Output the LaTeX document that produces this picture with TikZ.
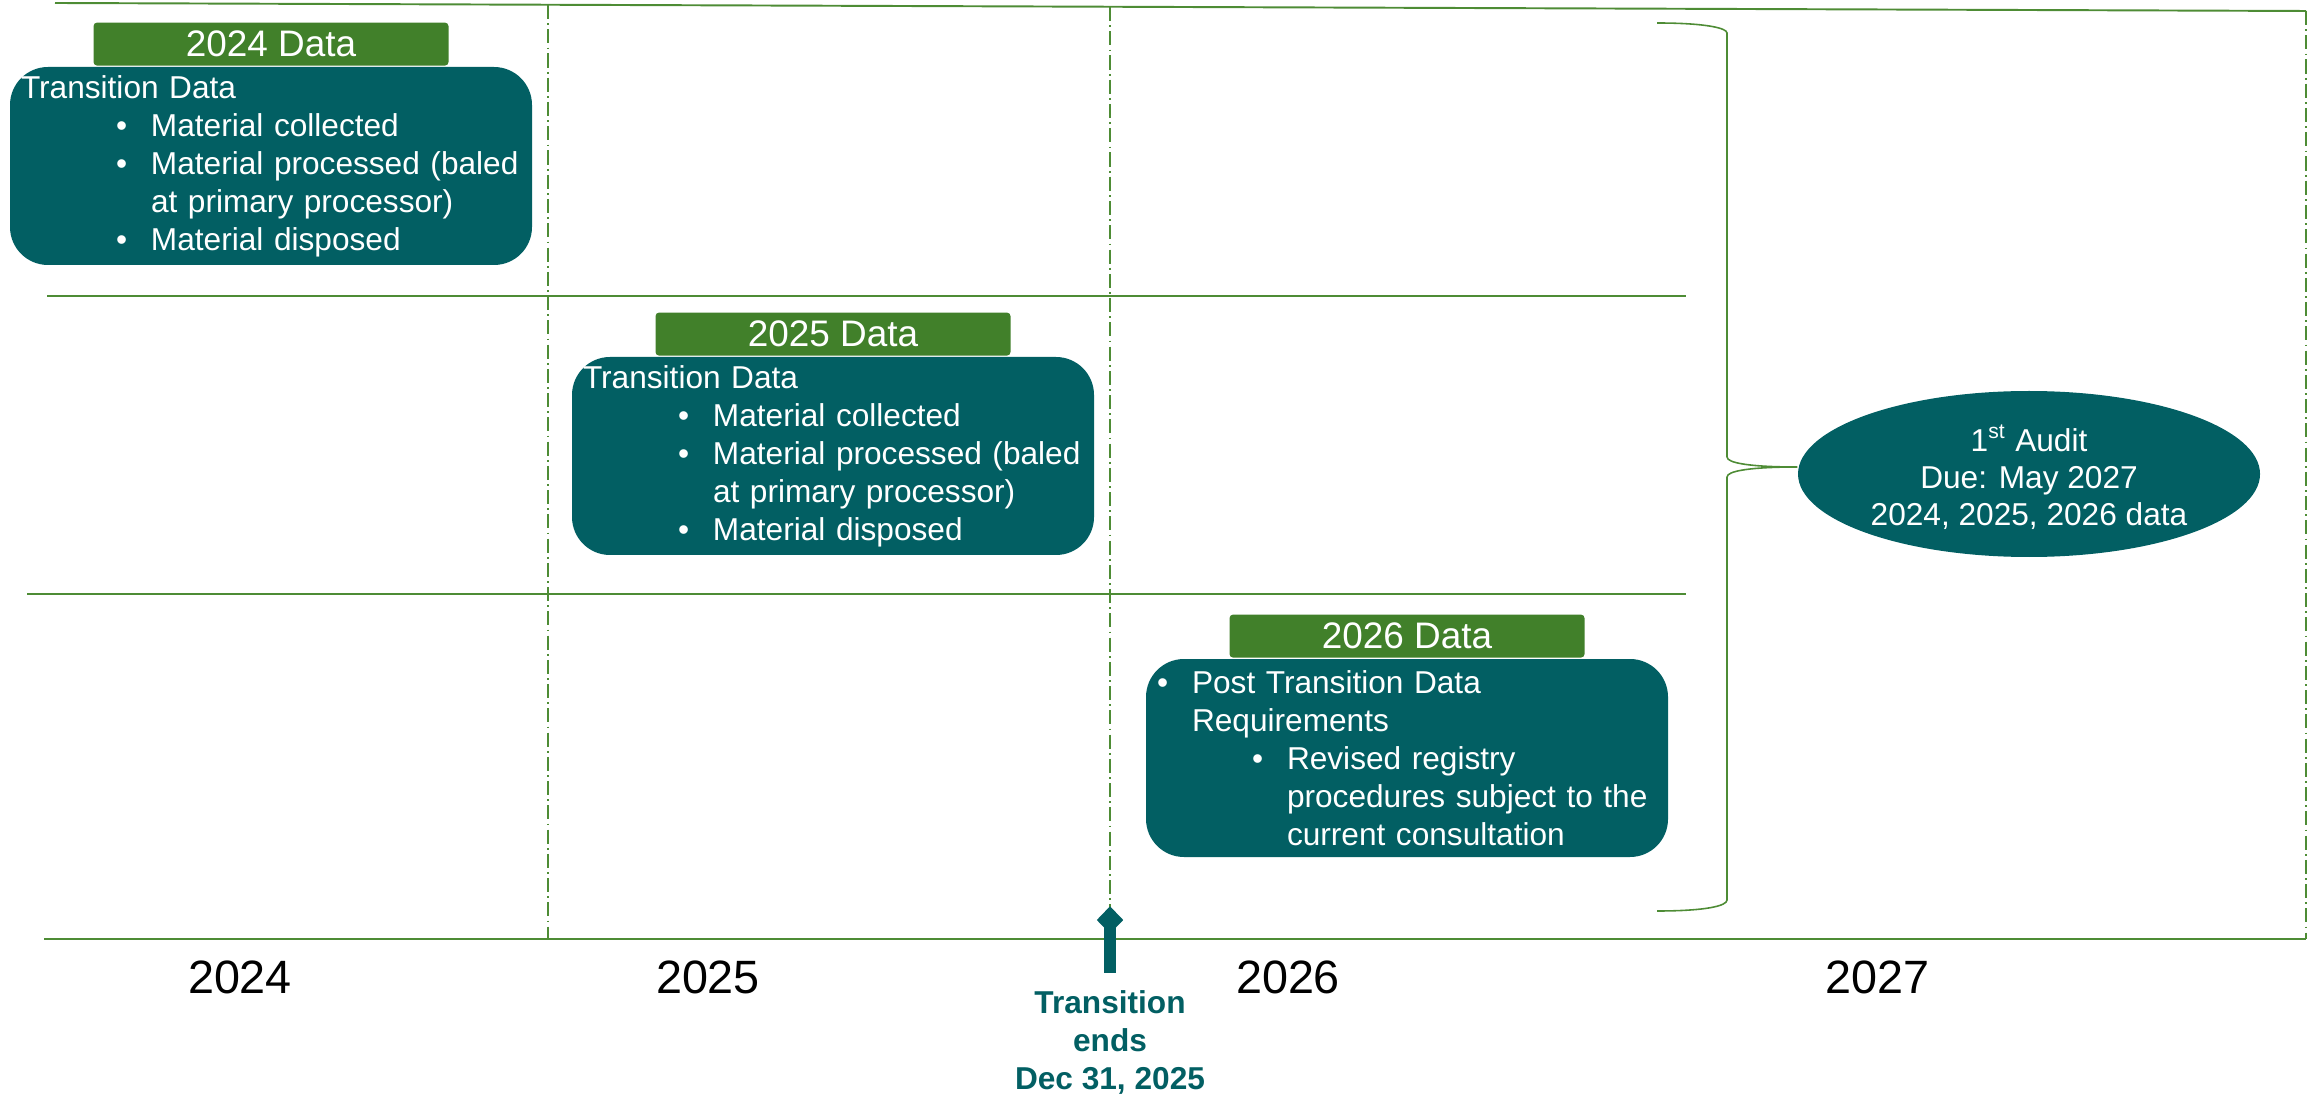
\documentclass[tikz,border=0pt]{standalone}
\usepackage{fontspec}
\setmainfont{Liberation Sans}
\usepackage{xcolor}
\usetikzlibrary{shapes.geometric,positioning}

\definecolor{tealbox}{HTML}{025F63}
\definecolor{headgreen}{HTML}{41802A}
\definecolor{linegreen}{HTML}{4E8C35}

% one bullet line: indent, text
\newcommand{\itemline}[2]{\hspace*{#1}\makebox[0.35cm][l]{\textbullet}#2}

\begin{document}
\begin{tikzpicture}[
    data box/.style={rectangle,rounded corners=0.38cm,fill=tealbox,text=white,
        minimum width=5.22cm,minimum height=1.98cm,text width=5.0cm,align=left,
        inner xsep=0.11cm,inner ysep=0pt,font=\fontsize{9}{10.8}\selectfont},
    year head/.style={rectangle,rounded corners=1pt,fill=headgreen,text=white,
        minimum width=3.55cm,minimum height=0.43cm,inner sep=0pt,
        font=\fontsize{10.5}{12}\selectfont},
    year label/.style={inner sep=0pt,font=\fontsize{13.3}{16}\selectfont},
    grid line/.style={draw=linegreen,line width=0.55pt},
    year line/.style={draw=linegreen,line width=0.5pt,
        dash pattern=on 4pt off 1.2pt on 0.5pt off 1.2pt}]

  \useasboundingbox (0,0) rectangle (23.13,-10.95);

  % Grid
  \draw[grid line] (0.55,-0.03) -- (23.06,-0.11);
  \draw[grid line] (0.47,-2.96) -- (16.86,-2.96);
  \draw[grid line] (0.27,-5.94) -- (16.86,-5.94);
  \draw[year line] (5.48,-0.05) -- (5.48,-9.39);
  \draw[year line] (11.10,-0.07) -- (11.10,-9.39);
  \draw[year line] (23.06,-0.11) -- (23.06,-9.39);
  \draw[grid line] (0.44,-9.39) -- (23.06,-9.39);

  % Data boxes
  \node[data box] (box24) at (2.71,-1.66) {Transition Data\\
      \itemline{0.95cm}{Material collected}\\
      \itemline{0.95cm}{Material processed (baled}\\
      \hspace*{1.30cm}at primary processor)\\
      \itemline{0.95cm}{Material disposed}};
  \node[year head] (head24) [above=0pt of box24] {2024 Data};

  \node[data box] (box25) at (8.33,-4.56) {Transition Data\\
      \itemline{0.95cm}{Material collected}\\
      \itemline{0.95cm}{Material processed (baled}\\
      \hspace*{1.30cm}at primary processor)\\
      \itemline{0.95cm}{Material disposed}};
  \node[year head] (head25) [above=0pt of box25] {2025 Data};

  \node[data box] (box26) at (14.07,-7.58) {\itemline{0cm}{Post Transition Data}\\
      \hspace*{0.35cm}Requirements\\
      \itemline{0.95cm}{Revised registry}\\
      \hspace*{1.30cm}procedures subject to the\\
      \hspace*{1.30cm}current consultation};
  \node[year head] (head26) [above=0pt of box26] {2026 Data};

  % Audit
  \node[ellipse,fill=tealbox,minimum width=4.62cm,minimum height=1.66cm,inner sep=0pt]
        (audit) at (20.29,-4.74) {};
  \node[inner sep=0pt,align=center,text=white,font=\fontsize{9}{10.5}\selectfont]
        (audit text) at ([yshift=-0.03cm]audit.center) {1\textsuperscript{st} Audit\\Due: May 2027\\2024, 2025, 2026 data};

  % Brace
  \coordinate (brace tip) at ([yshift=0.07cm]audit.west);
  \draw[grid line,line width=0.45pt] (16.57,-0.23) .. controls (17.05,-0.23) and (17.27,-0.28) .. (17.27,-0.33)
      -- (17.27,-4.57) .. controls (17.27,-4.63) and (17.50,-4.67) .. (brace tip)
      .. controls (17.50,-4.67) and (17.27,-4.71) .. (17.27,-4.77)
      -- (17.27,-9.00) .. controls (17.27,-9.06) and (17.05,-9.11) .. (16.57,-9.11);

  % Transition marker
  \node[diamond,fill=tealbox,minimum width=0.27cm,minimum height=0.28cm,inner sep=0pt]
        (trans mark) at (11.10,-9.20) {};
  \coordinate (stem end) at (11.10,-9.73);
  \draw[tealbox,line width=3.2pt] (trans mark.center) -- (stem end);
  \node[inner sep=0pt,align=center,text=tealbox,font=\bfseries\fontsize{9}{10.8}\selectfont]
        (trans text) [below=0.17cm of stem end] {Transition\\ends\\Dec 31, 2025};

  % Years
  \node[year label] (y2024) at (2.40,-9.77) {2024};
  \node[year label] (y2025) at (7.08,-9.77) {2025};
  \node[year label] (y2026) at (12.88,-9.77) {2026};
  \node[year label] (y2027) at (18.77,-9.77) {2027};
\end{tikzpicture}
\end{document}
